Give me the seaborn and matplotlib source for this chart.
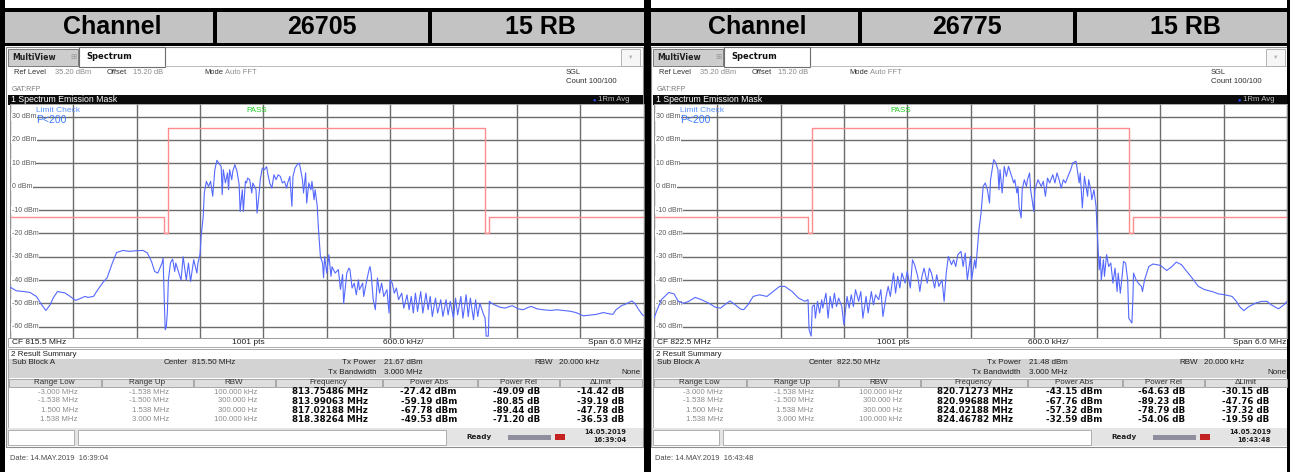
import matplotlib
matplotlib.use("Agg")
import matplotlib.pyplot as plt
from matplotlib.patches import Rectangle
import seaborn as sns

# ---------------- data ----------------
channels = ["26705", "26775"]
rb_label = "15 RB"
cf_mhz = [815.5, 822.5]
tx_power_dbm = [21.67, 21.48]
times = ["16:39:04", "16:43:48"]

# spectrum emission mask (offset from CF in MHz, limit in dBm)
mask_edges = [-3.0, -1.538, -1.5, 1.5, 1.538, 3.0]
mask_levels = [-13, -20, 25, -20, -13]

# result summary table
range_low = ["-3.000 MHz", "-1.538 MHz", "1.500 MHz", "1.538 MHz"]
range_up = ["-1.538 MHz", "-1.500 MHz", "1.538 MHz", "3.000 MHz"]
range_rbw = ["100.000 kHz", "300.000 Hz", "300.000 Hz", "100.000 kHz"]
peak_freq = [[813.75486, 813.99063, 817.02188, 818.38264],
             [820.71273, 820.99688, 824.02188, 824.46782]]
power_abs = [[-27.42, -59.19, -67.78, -49.53],
             [-43.15, -67.76, -57.32, -32.59]]
power_rel = [[-49.09, -80.85, -89.44, -71.20],
             [-64.63, -89.23, -78.79, -54.06]]
delta_limit = [[-14.42, -39.19, -47.78, -36.53],
               [-30.15, -47.76, -37.32, -19.59]]

# 1Rm Avg traces (offset from CF in MHz, level in dBm)
left_f = [-3.00, -2.94, -2.87, -2.81, -2.75, -2.70, -2.66, -2.62, -2.59, -2.55, -2.48, -2.43, -2.38, -2.34,
          -2.29, -2.26, -2.21, -2.18, -2.12, -2.08, -2.03, -1.99, -1.93, -1.87, -1.80, -1.74, -1.70, -1.66,
          -1.63, -1.60, -1.56, -1.55, -1.54, -1.53, -1.52, -1.51, -1.50, -1.48, -1.46, -1.44, -1.43, -1.40,
          -1.38, -1.36, -1.33, -1.31, -1.29, -1.26, -1.23, -1.22, -1.20, -1.19, -1.17, -1.16, -1.14, -1.12,
          -1.10, -1.08, -1.06, -1.04, -1.02, -1.00, -0.99, -0.98, -0.96, -0.94, -0.93, -0.92, -0.90, -0.89,
          -0.87, -0.85, -0.83, -0.82, -0.80, -0.79, -0.77, -0.76, -0.75, -0.73, -0.71, -0.70, -0.67, -0.66,
          -0.64, -0.63, -0.61, -0.59, -0.57, -0.56, -0.54, -0.52, -0.50, -0.48, -0.46, -0.44, -0.42, -0.40,
          -0.38, -0.37, -0.35, -0.33, -0.32, -0.30, -0.28, -0.26, -0.25, -0.23, -0.22, -0.20, -0.19, -0.17,
          -0.15, -0.14, -0.12, -0.11, -0.09, -0.08, -0.06, -0.04, -0.03, -0.02, 0.00, 0.02, 0.04, 0.05,
          0.08, 0.11, 0.13, 0.15, 0.16, 0.19, 0.21, 0.22, 0.24, 0.26, 0.28, 0.30, 0.31, 0.34, 0.35, 0.38,
          0.40, 0.41, 0.42, 0.44, 0.46, 0.48, 0.50, 0.52, 0.54, 0.57, 0.59, 0.60, 0.62, 0.64, 0.66, 0.68,
          0.71, 0.73, 0.76, 0.78, 0.80, 0.82, 0.84, 0.86, 0.89, 0.91, 0.94, 0.96, 0.98, 1.00, 1.03, 1.05,
          1.08, 1.10, 1.13, 1.15, 1.17, 1.20, 1.22, 1.24, 1.27, 1.29, 1.32, 1.34, 1.36, 1.39, 1.41, 1.43,
          1.45, 1.48, 1.50, 1.51, 1.53, 1.54, 1.56, 1.59, 1.64, 1.69, 1.73, 1.76, 1.81, 1.86, 1.91, 1.94,
          1.99, 2.05, 2.12, 2.18, 2.24, 2.30, 2.36, 2.43, 2.49, 2.55, 2.62, 2.66, 2.71, 2.74, 2.79, 2.84,
          2.89, 2.92, 2.95, 2.98, 3.00]
left_db = [-43.0, -44.6, -44.9, -45.3, -47.0, -50.6, -53.0, -50.6, -47.6, -44.9, -45.5, -47.0, -48.7, -48.0,
           -47.0, -47.4, -47.0, -44.9, -41.0, -39.0, -32.6, -28.2, -27.3, -27.7, -27.4, -27.3, -28.3, -32.0,
           -36.3, -37.0, -32.7, -30.6, -47.0, -61.3, -60.0, -54.0, -40.0, -32.6, -31.0, -36.3, -32.7, -37.0,
           -40.0, -30.0, -40.0, -32.7, -40.6, -31.3, -37.0, -32.7, -29.0, -21.3, -12.7, -2.7, 2.3, 0.1,
           2.3, -4.1, 7.3, 11.3, 9.9, 8.7, -3.4, 7.3, 1.6, 5.9, -1.3, 7.3, 3.0, 6.6,
           9.4, 6.6, 0.9, -10.6, -1.3, -10.6, 2.3, 1.6, 3.7, 3.0, -2.7, 1.6, -1.3, -11.3,
           -2.7, 3.0, 8.0, 7.3, 8.6, 5.9, 1.6, -0.6, 5.1, 3.0, 5.1, 4.4, 1.6, 2.3,
           -0.6, 1.6, 4.4, -8.4, 4.4, 8.0, 9.4, 10.1, 8.0, 3.0, -2.7, 5.9, -7.0, 1.6,
           -1.3, 2.3, -5.6, -1.3, -8.4, -17.0, -30.0, -32.7, -39.0, -30.0, -37.0, -29.1, -38.4, -34.3,
           -37.0, -35.5, -44.0, -37.6, -50.0, -37.0, -34.9, -35.6, -43.4, -41.3, -46.3, -39.9, -44.1, -41.3, -47.0, -39.9,
           -35.6, -34.2, -37.0, -48.4, -52.7, -39.1, -45.6, -41.3, -47.0, -44.1, -54.1, -39.9, -41.3, -45.6, -43.4, -48.4,
           -45.6, -52.0, -46.3, -52.7, -47.0, -54.1, -45.6, -53.4, -44.9, -54.1, -45.6, -52.7, -47.0, -55.6, -47.7, -54.1,
           -48.4, -55.6, -48.4, -54.9, -49.1, -56.3, -47.7, -54.9, -47.0, -56.3, -46.3, -55.6, -47.7, -57.0, -48.4, -55.6,
           -49.9, -54.1, -56.3, -64.0, -64.0, -49.1, -49.9, -50.6, -51.6, -52.0, -51.3, -51.0, -52.3, -52.7, -51.6, -51.3,
           -52.3, -52.7, -53.0, -52.7, -53.0, -53.3, -53.9, -55.3, -55.0, -54.7, -53.9, -54.3, -54.7, -52.7, -51.0, -50.1,
           -48.9, -50.1, -52.3, -54.3, -55.3]

right_f = [-3.00, -2.97, -2.93, -2.86, -2.81, -2.77, -2.72, -2.67, -2.61, -2.55, -2.48, -2.42, -2.37, -2.33,
           -2.28, -2.23, -2.18, -2.15, -2.11, -2.06, -2.00, -1.93, -1.87, -1.81, -1.76, -1.69, -1.63, -1.57,
           -1.54, -1.53, -1.51, -1.50, -1.48, -1.47, -1.45, -1.43, -1.41, -1.40, -1.37, -1.35, -1.33, -1.31,
           -1.29, -1.27, -1.25, -1.22, -1.20, -1.17, -1.15, -1.13, -1.11, -1.09, -1.06, -1.04, -1.02, -0.99,
           -0.97, -0.94, -0.92, -0.90, -0.87, -0.85, -0.83, -0.80, -0.78, -0.76, -0.73, -0.71, -0.69, -0.67,
           -0.65, -0.62, -0.60, -0.57, -0.55, -0.53, -0.50, -0.48, -0.46, -0.44, -0.41, -0.39, -0.37, -0.34,
           -0.32, -0.30, -0.27, -0.25, -0.23, -0.21, -0.18, -0.16, -0.14, -0.12, -0.09, -0.07, -0.05, -0.03,
           0.00, 0.01, 0.04, 0.05, 0.07, 0.08, 0.10, 0.12, 0.14, 0.16, 0.18, 0.19, 0.22, 0.24, 0.26, 0.27,
           0.28, 0.30, 0.32, 0.34, 0.36, 0.38, 0.41, 0.42, 0.44, 0.45, 0.46, 0.48, 0.49, 0.51, 0.53, 0.54,
           0.56, 0.57, 0.60, 0.61, 0.63, 0.64, 0.67, 0.69, 0.71, 0.73, 0.75, 0.78, 0.80, 0.82, 0.84, 0.86,
           0.88, 0.90, 0.93, 0.95, 0.97, 1.00, 1.01, 1.03, 1.04, 1.06, 1.08, 1.09, 1.11, 1.12, 1.14, 1.15,
           1.17, 1.19, 1.20, 1.21, 1.22, 1.23, 1.24, 1.26, 1.27, 1.29, 1.31, 1.33, 1.35, 1.37, 1.39, 1.40,
           1.42, 1.44, 1.45, 1.47, 1.49, 1.50, 1.51, 1.53, 1.54, 1.545, 1.57, 1.59, 1.62, 1.63, 1.65, 1.69,
           1.73, 1.80, 1.86, 1.91, 1.95, 2.00, 2.05, 2.10, 2.16, 2.22, 2.29, 2.35, 2.41, 2.48, 2.52, 2.55,
           2.59, 2.63, 2.70, 2.76, 2.81, 2.85, 2.92, 2.97, 3.00]
right_db = [-56.3, -52.7, -48.4, -45.3, -45.9, -49.1, -49.9, -49.1, -47.4, -48.4, -49.9, -51.6, -52.0, -50.6,
            -48.9, -50.6, -52.4, -52.7, -50.6, -47.0, -46.3, -47.0, -44.9, -42.7, -42.7, -44.9, -47.7, -49.1,
            -48.4, -61.3, -64.0, -51.3, -50.6, -56.3, -49.1, -54.1, -48.4, -52.0, -45.6, -56.3, -47.0, -52.0,
            -45.6, -51.3, -47.7, -51.3, -59.1, -47.0, -52.0, -46.3, -51.3, -44.1, -49.1, -44.9, -56.3, -47.0,
            -54.1, -44.9, -50.6, -46.3, -48.4, -44.1, -55.6, -47.0, -42.7, -47.0, -37.0, -45.6, -38.4, -43.4,
            -37.0, -41.3, -36.3, -43.4, -31.3, -33.4, -38.4, -44.9, -38.4, -34.9, -41.3, -34.9, -37.0, -43.4,
            -37.7, -42.7, -39.9, -49.1, -37.0, -29.9, -33.4, -31.3, -34.2, -29.1, -27.7, -34.2, -28.4, -39.9,
            -29.9, -39.9, -31.3, -34.9, -24.1, -18.4, -11.3, 0.1, 1.6, -1.3, -7.0, 3.0, 11.6, 10.2, 7.3, -1.3,
            7.3, -2.7, 8.7, 4.4, 8.7, 5.9, 1.6, 3.0, -2.7, 0.1, -8.4, -13.4, -1.3, 3.0, 0.1, 3.0,
            5.9, -1.3, -10.6, -1.3, 1.6, 3.0, 0.1, 2.3, -4.1, 3.7, 1.6, 5.1, 1.6, 5.9, 3.0, -0.6,
            3.0, 1.6, 5.1, 7.3, 10.2, 10.9, 8.0, 1.6, 5.9, -9.1, 4.4, 1.6, -4.1, 3.0, -1.3, -5.6,
            -1.3, -8.4, -18.4, -27.0, -35.6, -29.9, -39.9, -31.3, -38.4, -29.1, -34.2, -32.7, -41.3, -34.9, -44.9, -37.0,
            -45.6, -37.0, -32.0, -32.7, -39.9, -56.3, -57.0, -58.4, -47.0, -37.0, -39.9, -41.3, -42.7, -44.9, -39.9, -34.2,
            -33.1, -33.7, -35.9, -34.2, -32.3, -33.4, -36.3, -39.1, -42.7, -44.1, -44.9, -45.9, -46.3, -47.0, -49.1, -51.3,
            -53.1, -51.6, -49.9, -49.1, -49.1, -50.6, -52.3, -50.6, -49.1]

traces = [(left_f, left_db), (right_f, right_db)]

# ---------------- figure ----------------
sns.set_theme(style="white")
plt.rcParams['font.family'] = ['Liberation Sans', 'DejaVu Sans']

W, H = 1290, 472
fig = plt.figure(figsize=(W / 100, H / 100), dpi=100)
bg = fig.add_axes([0, 0, 1, 1])
bg.set_xlim(0, W)
bg.set_ylim(H, 0)
bg.axis('off')


def rect(x, y, w, h, fc, ec='none', lw=0.8, z=1):
    bg.add_patch(Rectangle((x, y), w, h, facecolor=fc, edgecolor=ec, linewidth=lw, zorder=z))


def txt(x, y, s, size=5.6, color='#3a3a3a', ha='left', weight='normal', family=None, z=5):
    kw = dict(fontsize=size, color=color, ha=ha, va='center', fontweight=weight, zorder=z)
    if family:
        kw['family'] = family
    bg.text(x, y, s, **kw)


# outer black frame of the two captures
rect(0, 8, W, 3.5, 'black', z=3)
rect(0, 43, W, 3, 'black', z=3)
rect(0, 0, 4.5, H, 'black', z=3)
rect(643.5, 0, 7, H, 'black', z=3)
rect(1286.5, 0, 3.5, H, 'black', z=3)

plot_x = [(10, 643.5), (654, 1287)]
col_edges = [8, 101, 193, 275, 382, 477, 559, 642]
col_names = ["Range Low", "Range Up", "RBW", "Frequency", "Power Abs", "Power Rel", "\u0394Limit"]
col_right = [78, 169, 257, 368, 457, 540, 624]
row_y = [392, 401, 410.3, 419.5]

for i, ox in enumerate([0, 645]):
    # header row
    rect(ox + 4, 11.5, 640, 31.5, '#c3c3c3', z=2)
    rect(ox + 213, 8, 3.5, 38, 'black', z=3)
    rect(ox + 428, 8, 3.5, 38, 'black', z=3)
    for cx, s in zip([112, 322, 540], ["Channel", channels[i], rb_label]):
        txt(ox + cx, 27.5, s, size=18, color='black', ha='center', weight='bold')

    # analyzer window
    rect(ox + 6, 46.5, 637, 400, 'white', ec='#8c8c8c', lw=0.8)
    rect(ox + 8, 49, 70, 17, '#cdcdcd', ec='#7c7c7c', lw=0.7, z=2)
    txt(ox + 12, 57.5, "MultiView", size=5.6, color='#202020', weight='bold', family='DejaVu Sans')
    txt(ox + 70, 57.5, "\u229e", size=5.5, color='#9a9a9a')
    rect(ox + 79, 47, 86, 19.5, 'white', ec='#6c6c6c', lw=0.8, z=2)
    txt(ox + 86, 56.5, "Spectrum", size=6, color='#101010', weight='bold', family='DejaVu Sans')
    bg.plot([ox + 165, ox + 643], [66, 66], color='#b0b0b0', lw=0.6, zorder=2)
    rect(ox + 621, 48.5, 19, 17, '#f6f6f6', ec='#a8a8a8', lw=0.6, z=2)
    txt(ox + 630.5, 57, "\u25bc", size=4, color='#b0b0b0', ha='center')

    # setting lines
    txt(ox + 14, 72.5, "Ref Level", size=5.4, color='#303030')
    txt(ox + 55, 72.5, "35.20 dBm", size=5.4, color='#8a8a8a')
    txt(ox + 107, 72.5, "Offset", size=5.4, color='#303030')
    txt(ox + 133, 72.5, "15.20 dB", size=5.4, color='#8a8a8a')
    txt(ox + 204, 72.5, "Mode", size=5.4, color='#303030')
    txt(ox + 225, 72.5, "Auto FFT", size=5.4, color='#8a8a8a')
    txt(ox + 566, 72.5, "SGL", size=5.4, color='#303030')
    txt(ox + 566, 81.5, "Count 100/100", size=5.6, color='#303030')
    txt(ox + 12, 89.5, "GAT:RFP", size=5.0, color='#7a7a7a')

    # trace title bar
    rect(ox + 8, 95, 635, 9.5, '#0c0c0c', z=2)
    txt(ox + 11, 99.8, "1 Spectrum Emission Mask", size=6.3, color='white')
    txt(ox + 594, 99.8, "\u25cf", size=4, color='#2f49ff', ha='center')
    txt(ox + 598, 99.8, "1Rm Avg", size=5.6, color='#bdbdbd')

    # status line under the plot
    rect(ox + 8, 338, 635, 9, 'white', ec='#a0a0a0', lw=0.6, z=2)
    txt(ox + 12, 342.5, "CF %.1f MHz" % cf_mhz[i], size=6, color='#202020')
    txt(ox + 248, 342.5, "1001 pts", size=6, color='#202020', ha='center')
    txt(ox + 403, 342.5, "600.0 kHz/", size=6, color='#202020', ha='center')
    txt(ox + 641, 342.5, "Span 6.0 MHz", size=6, color='#202020', ha='right')

    # result summary
    rect(ox + 8, 349, 635, 78.5, 'white', ec='#9a9a9a', lw=0.6, z=2)
    txt(ox + 11, 354, "2 Result Summary", size=5.8, color='#202020', z=6)
    rect(ox + 9, 358.5, 633, 19.5, '#d3d3d3', z=3)
    txt(ox + 12, 363, "Sub Block A", size=5.8, color='#202020')
    txt(ox + 188, 363, "Center", size=5.8, color='#202020', ha='right')
    txt(ox + 192, 363, "%.2f MHz" % cf_mhz[i], size=5.8, color='#202020')
    txt(ox + 376, 363, "Tx Power", size=5.8, color='#202020', ha='right')
    txt(ox + 384, 363, "%.2f dBm" % tx_power_dbm[i], size=5.8, color='#202020')
    txt(ox + 376, 372.5, "Tx Bandwidth", size=5.8, color='#202020', ha='right')
    txt(ox + 384, 372.5, "3.000 MHz", size=5.8, color='#202020')
    txt(ox + 553, 363, "RBW", size=5.8, color='#202020', ha='right')
    txt(ox + 559, 363, "20.000 kHz", size=5.8, color='#202020')
    txt(ox + 641, 372.5, "None", size=5.8, color='#202020', ha='right')
    for c in range(7):
        x0, x1 = col_edges[c], col_edges[c + 1]
        rect(ox + x0 + 0.5, 378.5, x1 - x0 - 1, 8.5, '#dedede', ec='#9c9c9c', lw=0.6, z=3)
        txt(ox + (x0 + x1) / 2, 382.8, col_names[c], size=5.8, color='#303030', ha='center')
    for r in range(4):
        y = row_y[r]
        txt(ox + col_right[0], y, range_low[r], size=5.6, color='#8c8c8c', ha='right')
        txt(ox + col_right[1], y, range_up[r], size=5.6, color='#8c8c8c', ha='right')
        txt(ox + col_right[2], y, range_rbw[r], size=5.6, color='#8c8c8c', ha='right')
        bold = dict(size=6.3, color='#0a0a0a', ha='right', weight='bold', family='DejaVu Sans')
        txt(ox + col_right[3], y, "%.5f MHz" % peak_freq[i][r], **bold)
        txt(ox + col_right[4], y, "%.2f dBm" % power_abs[i][r], **bold)
        txt(ox + col_right[5], y, "%.2f dB" % power_rel[i][r], **bold)
        txt(ox + col_right[6], y, "%.2f dB" % delta_limit[i][r], **bold)

    # instrument status bar
    rect(ox + 7, 428, 636, 18, '#e4e4e4', z=2)
    rect(ox + 8, 430, 66, 15, 'white', ec='#a4a4a4', lw=0.6, z=3)
    rect(ox + 78, 430, 368, 15, 'white', ec='#a4a4a4', lw=0.6, z=3)
    txt(ox + 479, 437, "Ready", size=5.2, color='#202020', ha='center', weight='bold', family='DejaVu Sans')
    rect(ox + 508, 434.5, 43, 5, '#8e8e9e', z=3)
    rect(ox + 555, 434, 10, 6, '#c42222', z=3)
    txt(ox + 626, 432, "14.05.2019", size=4.8, color='#202020', ha='right', weight='bold', family='DejaVu Sans')
    txt(ox + 626, 440, times[i], size=4.8, color='#202020', ha='right', weight='bold', family='DejaVu Sans')
    txt(ox + 10, 459, "Date: 14.MAY.2019  " + times[i], size=5.4, color='#4a4a4a')

    # ---------------- spectrum plot ----------------
    x0, x1 = plot_x[i]
    y0, y1 = 104.5, 338
    ax = fig.add_axes([x0 / W, 1 - y1 / H, (x1 - x0) / W, (y1 - y0) / H])
    ax.set_facecolor('white')

    mx, my = [], []
    for k, lv in enumerate(mask_levels):
        mx += [mask_edges[k], mask_edges[k + 1]]
        my += [lv, lv]
    sns.lineplot(x=mx, y=my, ax=ax, sort=False, estimator=None, color='#ff8c8c', linewidth=1.0, zorder=2)
    f, db = traces[i]
    sns.lineplot(x=f, y=db, ax=ax, sort=False, estimator=None, color='#5569ff', linewidth=0.8, zorder=3)

    ax.set_xlim(-3, 3)
    ax.set_ylim(-64.8, 35.2)
    ax.set_xticks([-3 + 0.6 * k for k in range(11)])
    ax.set_yticks(list(range(-60, 31, 10)))
    ax.tick_params(length=0, labelbottom=False, labelleft=False)
    ax.set_xlabel('')
    ax.set_ylabel('')
    ax.set_axisbelow(True)
    ax.grid(True, color='#6c6c6c', linewidth=1.0)
    for sp in ax.spines.values():
        sp.set_color('#9a9a9a')
        sp.set_linewidth(0.6)

    for lv in range(30, -61, -10):
        ax.text(-2.985, lv, "%d dBm" % lv, fontsize=5.0, color='#5a5a5a', va='center', ha='left', zorder=1.5,
                bbox=dict(facecolor='white', edgecolor='none', pad=0.4))
    ax.text(-2.75, 32.8, "Limit Check", fontsize=6, color='#5b93ff', va='center', ha='left', zorder=4)
    ax.text(-2.75, 28.5, "P<200", fontsize=7.5, color='#3f7cff', va='center', ha='left', zorder=4)
    ax.text(-0.66, 32.8, "PASS", fontsize=5.8, color='#22cc22', va='center', ha='center', zorder=4)

fig.savefig("out.png", dpi=100)
